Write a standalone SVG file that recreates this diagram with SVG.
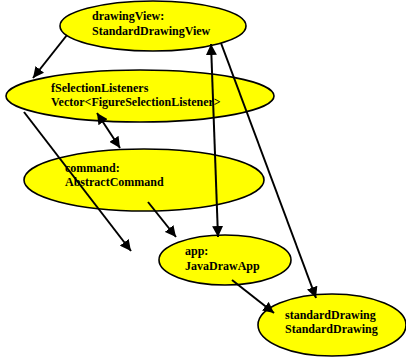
<svg xmlns="http://www.w3.org/2000/svg" width="406" height="358" viewBox="0 0 406 358">
<defs>
<marker id="ah" viewBox="0 0 10 10" refX="10" refY="5" markerWidth="5.5" markerHeight="5.5" orient="auto-start-reverse" markerUnits="strokeWidth">
<path d="M0,0 L10,5 L0,10 z" fill="#000"/>
</marker>
<style>
.n{fill:#ffff00;stroke:#000;stroke-width:1.6}
.t{font-family:"Liberation Serif",serif;font-weight:bold;font-size:12px;fill:#000}
.c{stroke:#000;stroke-width:2;fill:none}
</style>
</defs>
<rect width="406" height="358" fill="#fff"/>
<g id="nodes">
<g id="drawingView"><ellipse class="n" cx="153" cy="26" rx="93" ry="25"/><text class="t" x="92" y="20">drawingView:</text><text class="t" x="92" y="35">StandardDrawingView</text></g>
<g id="fSelectionListeners"><ellipse class="n" cx="140" cy="96" rx="134" ry="26"/><text class="t" x="51" y="92">fSelectionListeners</text><text class="t" x="51" y="106">Vector&lt;FigureSelectionListener&gt;</text></g>
<g id="command"><ellipse class="n" cx="144" cy="180" rx="120" ry="31"/><text class="t" x="65" y="172">command:</text><text class="t" x="65" y="186">AbstractCommand</text></g>
<g id="app"><ellipse class="n" cx="225" cy="260" rx="66" ry="25"/><text class="t" x="185" y="255">app:</text><text class="t" x="185" y="270">JavaDrawApp</text></g>
<g id="standardDrawing"><ellipse class="n" cx="332" cy="325" rx="74" ry="31"/><text class="t" x="285" y="319">standardDrawing</text><text class="t" x="285" y="333">StandardDrawing</text></g>
</g>
<g id="connectors">
<line class="c" x1="67" y1="35" x2="33" y2="78" marker-end="url(#ah)"/>
<line class="c" x1="24" y1="112" x2="131" y2="251" marker-end="url(#ah)"/>
<line class="c" x1="97" y1="113" x2="120" y2="148" marker-start="url(#ah)" marker-end="url(#ah)"/>
<line class="c" x1="148" y1="202" x2="176" y2="237" marker-end="url(#ah)"/>
<line class="c" x1="211" y1="44" x2="218" y2="237" marker-start="url(#ah)" marker-end="url(#ah)"/>
<line class="c" x1="221" y1="43" x2="316" y2="298" marker-end="url(#ah)"/>
<line class="c" x1="232" y1="280" x2="274" y2="313" marker-end="url(#ah)"/>
</g>
</svg>
